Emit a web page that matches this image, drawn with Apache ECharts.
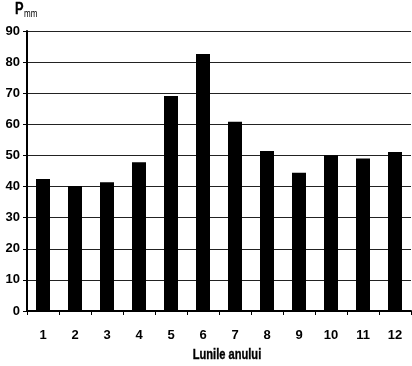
<!DOCTYPE html>
<html><head><meta charset="utf-8">
<script src="https://cdn.jsdelivr.net/npm/echarts@6/dist/echarts.min.js"></script>
<style>html,body{margin:0;padding:0;background:#fff}#c{width:412px;height:366px}</style>
</head><body><div id="c"></div>
<script>
const months = ['1','2','3','4','5','6','7','8','9','10','11','12'];
const precip = [42.4, 40.2, 41.4, 47.8, 69.1, 82.6, 60.8, 51.4, 44.4, 50.1, 49.0, 51.1];
const yTitle = 'P';
const ySub = 'mm';
const xTitle = 'Lunile anului';
const FONT = '"Liberation Sans", Arial, sans-serif';
const chart = echarts.init(document.getElementById('c'));
chart.setOption({
  animation: false,
  backgroundColor: '#fff',
  graphic: [
    {type: 'text', x: 15, y: 18, scaleX: 0.8,
     style: {text: yTitle, fontFamily: FONT, fontWeight: 'bold', fontSize: 16, fill: '#000', stroke: '#000', lineWidth: 0.3, verticalAlign: 'bottom'}},
    {type: 'text', x: 24, y: 19, scaleX: 0.8,
     style: {text: ySub, fontFamily: FONT, fontWeight: 'normal', fontSize: 10, fill: '#000', verticalAlign: 'bottom'}},
    {type: 'text', x: 227, y: 355, scaleX: 0.74,
     style: {text: xTitle, fontFamily: FONT, fontWeight: 'bold', fontSize: 15, fill: '#000', stroke: '#000', lineWidth: 0.4, align: 'center', verticalAlign: 'middle'}}
  ],
  grid: {left: 27, right: 1, top: 31, bottom: 55, containLabel: false},
  xAxis: {
    type: 'category', data: months,
    axisLine: {lineStyle: {color: '#000', width: 2}},
    axisTick: {show: true, length: 4, lineStyle: {color: '#000', width: 1}},
    axisLabel: {fontFamily: FONT, fontWeight: 'bold', fontSize: 13, color: '#000', margin: 18}
  },
  yAxis: {
    type: 'value', min: 0, max: 90, interval: 10,
    axisLine: {show: true, lineStyle: {color: '#000', width: 2}},
    axisTick: {show: true, inside: false, length: 4, lineStyle: {color: '#000'}},
    axisLabel: {fontFamily: FONT, fontWeight: 'bold', fontSize: 13, color: '#000', margin: 7},
    splitLine: {show: true, lineStyle: {color: '#222', width: 1}}
  },
  series: [{
    type: 'bar', data: precip, barWidth: 14,
    itemStyle: {color: '#000'}
  }]
});
</script></body></html>
